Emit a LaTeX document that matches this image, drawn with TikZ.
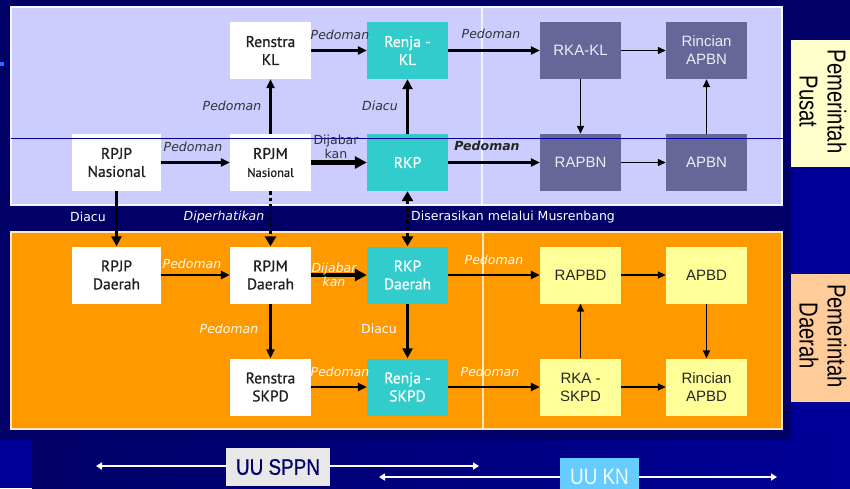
\documentclass[tikz,border=0pt]{standalone}
\usepackage{fontspec}
\usepackage{graphicx}
\setmainfont{DejaVu Sans}
\newfontfamily\boxfont[FakeBold=0.7]{PT Sans}
\newfontfamily\arialfont{Liberation Sans}
\newfontfamily\uufont[FakeBold=0.8]{Liberation Sans}
\usetikzlibrary{arrows.meta}
\definecolor{cnavy}{HTML}{000066}
\definecolor{cbg}{HTML}{000099}
\definecolor{clav}{HTML}{CCCCFF}
\definecolor{corg}{HTML}{FF9900}
\definecolor{cteal}{HTML}{33CCCC}
\definecolor{cpurp}{HTML}{666699}
\definecolor{cyel}{HTML}{FFFF99}
\definecolor{cpusat}{HTML}{FFFFCC}
\definecolor{cdaerah}{HTML}{FFCC99}
\definecolor{cuukn}{HTML}{66CCFF}
\definecolor{cuusppn}{HTML}{E8E8E8}
\definecolor{cmark}{HTML}{3366FF}
\begin{document}
\begin{tikzpicture}[x=1pt,y=-1pt,
  box/.style={minimum width=81pt, minimum height=57pt, inner sep=0pt, align=center,
    font=\boxfont\fontsize{15.5}{18}\selectfont},
  wbox/.style={box, fill=white, text=black!88},
  tbox/.style={box, fill=cteal, text=white},
  pbox/.style={box, fill=cpurp, text=white!88!cpurp, font=\arialfont\fontsize{15}{18}\selectfont},
  ybox/.style={box, fill=cyel, text=black!85, font=\arialfont\fontsize{15}{18}\selectfont},
  a1/.style={-{Triangle[length=8pt,width=7pt]}, line width=1.6pt, draw=black},
  a2/.style={-{Triangle[length=9pt,width=8pt]}, line width=2.2pt, draw=black},
  a3/.style={-{Triangle[length=10pt,width=10pt]}, line width=3pt, draw=black},
  a4/.style={-{Triangle[length=12pt,width=12pt]}, line width=4.5pt, draw=black},
  dotarr/.style={-{Triangle[length=10pt,width=11pt]}, line width=3.5pt, draw=black, dash pattern=on 3.5pt off 3pt},
  dotarrb/.style={{Triangle[length=10pt,width=11pt]}-{Triangle[length=10pt,width=11pt]}, line width=3.5pt, draw=black, dash pattern=on 3.5pt off 3pt},
  warr/.style={{Triangle[length=6pt,width=7pt]}-{Triangle[length=6pt,width=7pt]}, line width=1.5pt, draw=white},
  lu/.style={font=\fontsize{12.5}{14}\selectfont\itshape, text=black!80, inner sep=0pt},
  lun/.style={font=\fontsize{12.5}{14}\selectfont, text=black!80, inner sep=0pt, align=center},
  lw/.style={font=\fontsize{12.5}{14}\selectfont\itshape, text=white!95!corg, inner sep=0pt, align=center},
  lwn/.style={font=\fontsize{12.5}{14}\selectfont, text=white, inner sep=0pt},
  side/.style={rotate=-90, align=center, inner sep=0pt, text=black,
    font=\arialfont\fontsize{26}{28}\selectfont},
  uubox/.style={minimum width=104pt, minimum height=38pt, inner sep=0pt,
    font=\uufont\fontsize{22.5}{24}\selectfont}
]
\useasboundingbox (0,0) rectangle (850,488);
% backgrounds
\fill[cbg] (0,0) rectangle (850,488);
\fill[cnavy] (0,0) rectangle (791,440);
\fill[cnavy] (791,0) rectangle (850,40);
\shade[left color=cnavy, right color=cbg] (32,440) rectangle (850,488);
\fill[cmark] (0,62) rectangle (4,66);
% panels
\filldraw[fill=clav, draw=white!85!clav, line width=1.2pt] (11,7) rectangle (782,205);
\draw[white!80!clav, line width=1.5pt] (482,7) -- (482,205);
\filldraw[fill=corg, draw=white!75!corg, line width=1.2pt] (11,232) rectangle (782,429);
\draw[white!75!corg, line width=1.5pt] (483,232) -- (483,429);
% side labels
\node[fill=cpusat, minimum width=59pt, minimum height=127pt, inner sep=0pt] (pusat) at (820.5,103.5) {};
\node[side] (pusatlbl) at (823,101.5) {\scalebox{0.78}[1]{Pemerintah}\\\scalebox{0.78}[1]{Pusat}};
\node[fill=cdaerah, minimum width=59pt, minimum height=128pt, inner sep=0pt] (daerah) at (820.5,338) {};
\node[side] (daerahlbl) at (823,336) {\scalebox{0.78}[1]{Pemerintah}\\\scalebox{0.78}[1]{Daerah}};
% nodes row 1
\node[wbox] (renstrakl) at (270.5,50.5) {Renstra\\KL};
\node[tbox] (renjakl) at (407.5,50.5) {Renja -\\KL};
\node[pbox] (rkakl) at (580.5,50.5) {RKA-KL};
\node[pbox] (rincianapbn) at (706.5,50.5) {Rincian\\APBN};
% row 2
\node[wbox, minimum width=89pt] (rpjpnas) at (116.5,162.5) {RPJP\\Nasional};
\node[wbox] (rpjmnas) at (270.5,162.5) {{\fontsize{15.5}{18}\selectfont RPJM}\\{\fontsize{12.5}{16}\selectfont Nasional}};
\node[tbox] (rkp) at (407.5,162.5) {RKP};
\node[pbox] (rapbn) at (580.5,162.5) {RAPBN};
\node[pbox] (apbn) at (706.5,162.5) {APBN};
% row 3
\node[wbox, minimum width=89pt] (rpjpd) at (116.5,275) {RPJP\\Daerah};
\node[wbox] (rpjmd) at (270.5,275) {RPJM\\Daerah};
\node[tbox] (rkpd) at (407.5,275) {RKP\\Daerah};
\node[ybox] (rapbd) at (580.5,275) {RAPBD};
\node[ybox] (apbd) at (706.5,275) {APBD};
% row 4
\node[wbox] (renstraskpd) at (270.5,387) {Renstra\\SKPD};
\node[tbox] (renjaskpd) at (407.5,387) {Renja -\\SKPD};
\node[ybox] (rkaskpd) at (580.5,387) {RKA -\\SKPD};
\node[ybox] (rincianapbd) at (706.5,387) {Rincian\\APBD};
% horizontal rule
\coordinate (hl1) at (11,138);
\coordinate (hl2) at (791,138);
\draw[cbg, line width=1pt] (hl1) -- (hl2);
% arrows upper
\draw[a2] (renstrakl) -- (renjakl);
\draw[a2] (renjakl) -- (rkakl);
\draw[a1] (rkakl) -- (rincianapbn);
\draw[a1] (rkakl) -- (rapbn);
\draw[a2] (rpjpnas) -- (rpjmnas);
\draw[a2] (rpjmnas) -- (renstrakl);
\draw[a4] (rpjmnas) -- (rkp);
\draw[a3] (rkp) -- (renjakl);
\draw[a2] (rkp) -- (rapbn);
\draw[a1] (rapbn) -- (apbn);
\draw[a1] (apbn) -- (rincianapbn);
% between
\draw[a3] (rpjpnas) -- (rpjpd);
\draw[dotarr] (rpjmnas) -- (rpjmd);
\draw[dotarrb] (rkp) -- (rkpd);
% lower
\draw[a2] (rpjpd) -- (rpjmd);
\draw[a4] (rpjmd) -- (rkpd);
\draw[a2] (rpjmd) -- (renstraskpd);
\draw[a3] (rkpd) -- (renjaskpd);
\draw[a2] (renstraskpd) -- (renjaskpd);
\draw[a2] (rkpd) -- (rapbd);
\draw[a2] (renjaskpd) -- (rkaskpd);
\draw[a1] (rkaskpd) -- (rapbd);
\draw[a1] (rapbd) -- (apbd);
\draw[a1] (apbd) -- (rincianapbd);
\draw[a1] (rkaskpd) -- (rincianapbd);
% labels upper
\node[lu] (l1) at (340,35) {Pedoman};
\node[lu] (l2) at (232,106) {Pedoman};
\node[lu] (l3) at (380,106) {Diacu};
\node[lu] (l4) at (193,147) {Pedoman};
\node[lun] (l5) at (336,147) {Dijabar\\kan};
\node[lu] (l6) at (491,34) {Pedoman};
\node[lu, font=\fontsize{12.5}{14}\selectfont\bfseries\itshape, text=black!85] (l7) at (487,146) {Pedoman};
% strip labels
\node[lwn] (m1) at (88,217) {Diacu};
\node[lw] (m2) at (224,217) {Diperhatikan};
\node[lwn, anchor=west] (m3) at (411,217) {Diserasikan melalui Musrenbang};
% labels lower
\node[lw] (d1) at (192,264) {Pedoman};
\node[lw] (d2) at (334,275) {Dijabar\\kan};
\node[lw] (d3) at (229,329) {Pedoman};
\node[lwn] (d4) at (379,329) {Diacu};
\node[lw] (d5) at (340,372) {Pedoman};
\node[lw] (d6) at (494,260) {Pedoman};
\node[lw] (d7) at (490,372) {Pedoman};
% bottom
\coordinate (s1) at (96,466);
\coordinate (s2) at (479,466);
\draw[warr] (s1) -- (s2);
\node[uubox, fill=cuusppn, text=cnavy] (uusppn) at (278,467) {\scalebox{0.84}[1]{UU SPPN}};
\coordinate (k1) at (379,477);
\coordinate (k2) at (777,477);
\draw[warr] (k1) -- (k2);
\node[uubox, minimum width=79pt, fill=cuukn, text=white!90!cuukn, font=\arialfont\fontsize{22.5}{24}\selectfont] (uukn) at (599.5,477) {\scalebox{0.84}[1]{UU KN}};
\end{tikzpicture}
\end{document}
